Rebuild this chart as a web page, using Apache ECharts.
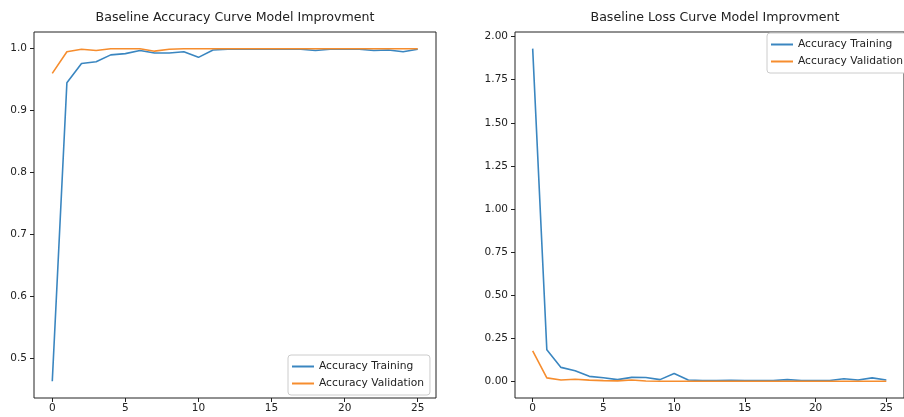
<!DOCTYPE html>
<html lang="en">
<head>
<meta charset="UTF-8">
<title>Baseline curves</title>
<script src="https://cdn.jsdelivr.net/npm/echarts@6/dist/echarts.min.js"></script>
<style>
  html, body { margin: 0; padding: 0; background: #fff; }
  #main { width: 904px; height: 417px; }
</style>
</head>
<body>
<div id="main"></div>
<script>
// epochs 0..25
var epochs = [0,1,2,3,4,5,6,7,8,9,10,11,12,13,14,15,16,17,18,19,20,21,22,23,24,25];

var accTrain = [0.462,0.945,0.976,0.979,0.990,0.992,0.997,0.993,0.993,0.995,0.986,0.998,0.999,0.999,0.999,0.999,0.999,0.999,0.997,0.999,0.999,0.999,0.997,0.998,0.995,0.999];
var accVal   = [0.960,0.995,0.999,0.997,1.000,1.000,1.000,0.996,0.999,1.000,1.000,1.000,1.000,1.000,1.000,1.000,1.000,1.000,1.000,1.000,1.000,1.000,1.000,1.000,1.000,1.000];

var lossTrain = [1.930,0.183,0.081,0.062,0.029,0.021,0.010,0.023,0.022,0.010,0.046,0.008,0.005,0.005,0.006,0.005,0.004,0.005,0.010,0.005,0.005,0.005,0.015,0.008,0.020,0.008];
var lossVal   = [0.177,0.020,0.008,0.012,0.007,0.004,0.003,0.008,0.002,0.001,0.001,0.001,0.001,0.001,0.001,0.001,0.001,0.001,0.001,0.001,0.001,0.001,0.001,0.001,0.001,0.001];

var xTicks = [0,5,10,15,20,25];
var accTicks = [0.5,0.6,0.7,0.8,0.9,1.0];
var lossTicks = [0,0.25,0.5,0.75,1.0,1.25,1.5,1.75,2.0];

var names = ['Accuracy Training', 'Accuracy Validation'];
var blue = '#3a86c0', orange = '#f68d2e';
var font = 'DejaVu Sans';

function pairs(ys) {
  return epochs.map(function (e, i) { return [e, ys[i]]; });
}

function xAxis(idx) {
  return {
    type: 'value', gridIndex: idx, min: -1.25, max: 26.25,
    splitLine: { show: false },
    axisLine: { show: false, onZero: false },
    axisTick: { show: true, length: 4, lineStyle: { color: '#222' }, customValues: xTicks },
    axisLabel: { customValues: xTicks, margin: 5, fontSize: 10.5, color: '#222', fontFamily: font }
  };
}

function yAxis(idx, min, max, ticks, digits) {
  return {
    type: 'value', gridIndex: idx, min: min, max: max,
    splitLine: { show: false },
    axisLine: { show: false, onZero: false },
    axisTick: { show: true, length: 4, lineStyle: { color: '#222' }, customValues: ticks },
    axisLabel: {
      customValues: ticks, margin: 7, fontSize: 10.5, color: '#222', fontFamily: font,
      formatter: function (v) { return v.toFixed(digits); }
    }
  };
}

function line(name, idx, ys, color) {
  return {
    name: name, type: 'line', xAxisIndex: idx, yAxisIndex: idx,
    data: pairs(ys), showSymbol: false, symbol: 'none',
    lineStyle: { color: color, width: 1.6 }, itemStyle: { color: color },
    clip: true, animation: false
  };
}

function legend(left, top) {
  return {
    orient: 'vertical', left: left, top: top,
    data: names, itemWidth: 22, itemHeight: 2, itemGap: 6,
    icon: 'rect',
    padding: [6, 6, 6, 4],
    backgroundColor: '#fff', borderColor: '#ccc', borderWidth: 1, borderRadius: 3,
    textStyle: { fontSize: 10.7, color: '#222', fontFamily: font }
  };
}

var chart = echarts.init(document.getElementById('main'), null, { renderer: 'canvas' });
chart.setOption({
  backgroundColor: '#fff',
  animation: false,
  title: [
    { text: 'Baseline Accuracy Curve Model Improvment', left: 235, top: 11, textAlign: 'center', padding: 0,
      textStyle: { fontSize: 12.6, fontWeight: 'normal', color: '#222', fontFamily: font } },
    { text: 'Baseline Loss Curve Model Improvment', left: 715, top: 11, textAlign: 'center', padding: 0,
      textStyle: { fontSize: 12.6, fontWeight: 'normal', color: '#222', fontFamily: font } }
  ],
  legend: [
    legend(288, 355),
    legend(767, 33)
  ],
  grid: [
    { left: 34, top: 32, width: 402, height: 366, show: true, borderColor: '#222', borderWidth: 1, backgroundColor: 'transparent' },
    { left: 515, top: 32, width: 399, height: 366, show: true, borderColor: '#222', borderWidth: 1, backgroundColor: 'transparent' }
  ],
  xAxis: [xAxis(0), xAxis(1)],
  yAxis: [
    yAxis(0, 0.435, 1.027, accTicks, 1),
    yAxis(1, -0.0965, 2.0265, lossTicks, 2)
  ],
  series: [
    line(names[0], 0, accTrain, blue),
    line(names[1], 0, accVal, orange),
    line(names[0], 1, lossTrain, blue),
    line(names[1], 1, lossVal, orange)
  ]
});
</script>
</body>
</html>
